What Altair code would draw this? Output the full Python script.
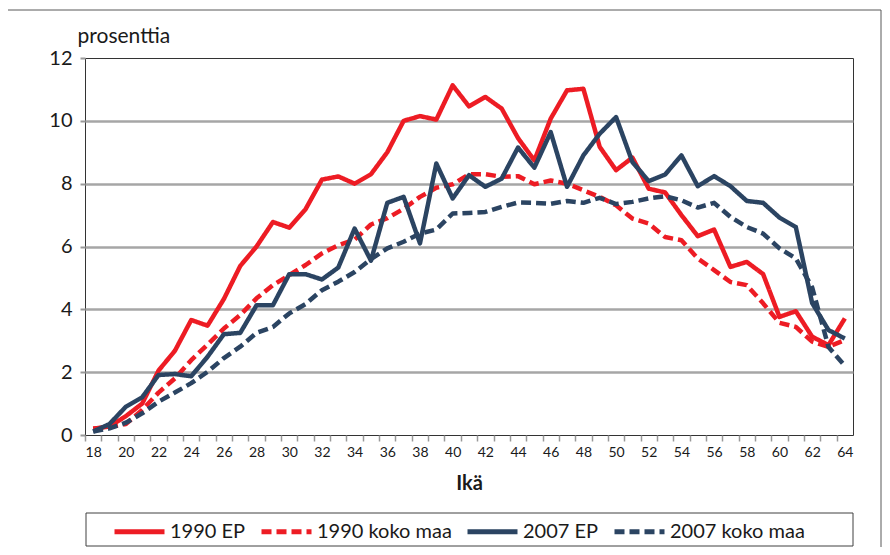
import altair as alt
import pandas as pd

# ---------------- data ----------------
ages = list(range(18, 65))
series_names = ["1990 EP", "1990 koko maa", "2007 EP", "2007 koko maa"]

ep_1990 = [0.2, 0.27, 0.6, 1.0, 2.05, 2.68, 3.66, 3.48, 4.33, 5.38,
           6.0, 6.78, 6.6, 7.19, 8.13, 8.23, 8.0, 8.3, 9.0, 10.0,
           10.15, 10.04, 11.13, 10.46, 10.76, 10.39, 9.45, 8.74, 10.07, 10.97,
           11.02, 9.17, 8.43, 8.83, 7.84, 7.72, 7.0, 6.33, 6.54, 5.35,
           5.51, 5.12, 3.76, 3.94, 3.13, 2.86, 3.71]

koko_1990 = [0.2, 0.25, 0.35, 0.8, 1.35, 1.8, 2.38, 2.88, 3.39, 3.82,
             4.35, 4.77, 5.09, 5.41, 5.78, 6.04, 6.22, 6.7, 6.9, 7.2,
             7.58, 7.87, 7.98, 8.3, 8.3, 8.22, 8.24, 7.98, 8.1, 8.0,
             7.79, 7.58, 7.31, 6.89, 6.73, 6.3, 6.2, 5.62, 5.25, 4.87,
             4.77, 4.19, 3.57, 3.44, 2.97, 2.81, 3.02]

ep_2007 = [0.11, 0.35, 0.9, 1.2, 1.91, 1.94, 1.87, 2.49, 3.21, 3.25,
           4.13, 4.13, 5.12, 5.12, 4.95, 5.33, 6.57, 5.55, 7.39, 7.58,
           6.1, 8.64, 7.53, 8.27, 7.9, 8.16, 9.15, 8.51, 9.64, 7.9,
           8.9, 9.59, 10.12, 8.69, 8.08, 8.29, 8.9, 7.92, 8.24, 7.92,
           7.45, 7.39, 6.92, 6.62, 4.2, 3.34, 3.07]

koko_2007 = [0.11, 0.21, 0.39, 0.69, 1.06, 1.35, 1.65, 2.01, 2.45, 2.81,
             3.25, 3.44, 3.87, 4.17, 4.61, 4.88, 5.19, 5.6, 5.94, 6.15,
             6.41, 6.54, 7.05, 7.07, 7.1, 7.26, 7.4, 7.39, 7.36, 7.45,
             7.39, 7.55, 7.35, 7.42, 7.53, 7.6, 7.47, 7.24, 7.39, 6.94,
             6.62, 6.41, 5.94, 5.62, 4.7, 2.8, 2.2]

y_ticks = [0, 2, 4, 6, 8, 10, 12]

RED = "#ed1c24"
BLUE = "#2b4462"

rows = []
for name, vals in zip(series_names, [ep_1990, koko_1990, ep_2007, koko_2007]):
    for a, v in zip(ages, vals):
        rows.append({"age": a, "value": v, "series": name})
df = pd.DataFrame(rows)

# ---------------- layout ----------------
W, H = 768, 377
step = W / len(ages)
FONT = "Lato"

color_scale = alt.Scale(domain=series_names, range=[RED, RED, BLUE, BLUE])
dash_scale = alt.Scale(domain=series_names, range=[[1, 0], [10, 5], [1, 0], [10, 5]])

legend = alt.Legend(
    title=None,
    orient="none",
    legendX=27,
    legendY=446,
    direction="horizontal",
    columns=4,
    columnPadding=5,
    symbolType="stroke",
    symbolSize=2500,
    symbolStrokeWidth=5,
    labelFont=FONT,
    labelFontSize=20,
    labelColor="#1a1a1a",
    labelOffset=3,
    padding=0,
    labelLimit=300,
)

x_enc = alt.X(
    "age:Q",
    scale=alt.Scale(domain=[17.5, 64.5], nice=False, zero=False),
    axis=alt.Axis(
        values=ages + [65],
        labelExpr="datum.value % 2 == 0 ? datum.label : ''",
        tickOffset=-step / 2,
        labelOffset=step / 2,
        tickSize=6,
        tickColor="#999999",
        tickWidth=1.5,
        labelFont=FONT,
        labelFontSize=14,
        labelColor="#1a1a1a",
        labelPadding=4,
        labelFlush=False,
        labelOverlap=False,
        domain=False,
        grid=False,
        title="Ikä",
        titleFont=FONT,
        titleFontSize=20,
        titleFontWeight="bold",
        titleColor="#1a1a1a",
        titlePadding=14,
    ),
)

y_enc = alt.Y(
    "value:Q",
    scale=alt.Scale(domain=[0, 12], nice=False, zero=True),
    axis=alt.Axis(
        values=y_ticks,
        title="prosenttia",
        titleAngle=0,
        titleX=-8,
        titleY=-22,
        titleAlign="left",
        titleBaseline="middle",
        titleFont=FONT,
        titleFontSize=21,
        titleFontWeight="normal",
        titleColor="#1a1a1a",
        labelFont=FONT,
        labelFontSize=20,
        labelColor="#1a1a1a",
        labelPadding=8,
        tickSize=5,
        tickColor="#999999",
        tickWidth=2,
        domain=False,
        grid=True,
        gridColor={"condition": {"test": "datum.value === 0 || datum.value === 12",
                                 "value": "transparent"},
                   "value": "#a6a6a6"},
        gridWidth=2.5,
    ),
)

lines = []
for s in series_names:
    lines.append(
        alt.Chart(df)
        .transform_filter(alt.datum.series == s)
        .mark_line(strokeWidth=4.5, strokeJoin="round", strokeCap="butt")
        .encode(
            x=x_enc,
            y=y_enc,
            color=alt.Color("series:N", scale=color_scale, legend=legend),
            strokeDash=alt.StrokeDash("series:N", scale=dash_scale, legend=legend),
        )
    )

one = pd.DataFrame({"k": [1]})
frame = alt.Chart(one).mark_rect(fillOpacity=0, stroke="#595959", strokeWidth=1).encode(
    x=alt.value(-78), x2=alt.value(796), y=alt.value(-48), y2=alt.value(700)
)
legend_box = alt.Chart(one).mark_rect(fillOpacity=0, stroke="#404040", strokeWidth=1).encode(
    x=alt.value(1), x2=alt.value(768), y=alt.value(455), y2=alt.value(488)
)

chart = (
    alt.layer(frame, legend_box, *lines)
    .properties(
        width=W,
        height=H,
        autosize=alt.AutoSizeParams(type="none"),
        padding={"left": 77, "top": 50, "right": 29, "bottom": 112},
        background="white",
    )
    .configure_view(stroke="#333333", strokeWidth=1)
)

chart.save("out.html", embed_options={"renderer": "svg", "actions": False})
